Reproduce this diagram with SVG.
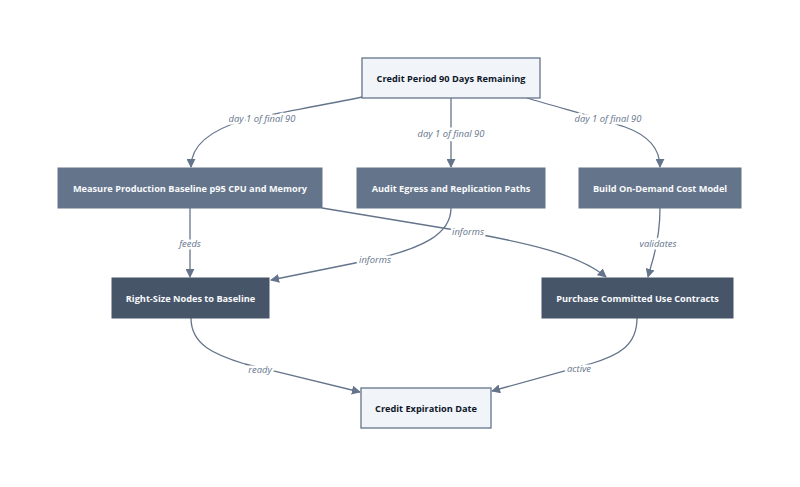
<svg xmlns="http://www.w3.org/2000/svg" width="800" height="487" viewBox="0 0 800 487">
<defs>
<marker id="arr" viewBox="0 0 10 10" refX="9" refY="5" markerWidth="9" markerHeight="9" markerUnits="userSpaceOnUse" orient="auto">
<path d="M0,0 L10,5 L0,10 z" fill="#64748b"/>
</marker>
<style>
.edge{fill:none;stroke:#64748b;stroke-width:1.3;marker-end:url(#arr);}
.lbl{font-family:"Open Sans","Liberation Sans",sans-serif;font-size:9.4px;font-style:italic;fill:#64748b;text-anchor:middle;dominant-baseline:central;stroke:#ffffff;stroke-width:5px;paint-order:stroke;stroke-linejoin:round;}
.light rect{fill:#f1f5f9;stroke:#64748b;stroke-width:1.3;}
.mid rect{fill:#64748b;stroke:#64748b;stroke-width:1;}
.dark rect{fill:#475569;stroke:#475569;stroke-width:1;}
.node text{font-family:"Open Sans","Liberation Sans",sans-serif;font-size:9.2px;font-weight:bold;text-anchor:middle;dominant-baseline:central;}
.light text{fill:#0f172a;}
.mid text,.dark text{fill:#f8fafc;}
</style>
</defs>
<rect width="800" height="487" fill="#ffffff"/>
<g id="connectors">
<path class="edge" d="M362,97 C320,106 270,114 245,120 C210,130 191,145 191,167"/>
<path class="edge" d="M451,98 L451,167"/>
<path class="edge" d="M527,98 C560,108 600,118 625,127 C650,136 660,150 660,167"/>
<path class="edge" d="M190,208 L190,277"/>
<path class="edge" d="M451,208 C451,235 420,248 380,258 L271,280"/>
<path class="edge" d="M322,208 L455,230 C530,243 580,255 606,277"/>
<path class="edge" d="M660,208 C660,230 656,250 651,266 L648,277"/>
<path class="edge" d="M191,318 C191,345 215,355 245,364 L360,392"/>
<path class="edge" d="M637,318 C637,345 620,355 590,364 L492,391"/>
<text class="lbl" x="262" y="118">day 1 of final 90</text>
<text class="lbl" x="451" y="133">day 1 of final 90</text>
<text class="lbl" x="608" y="118">day 1 of final 90</text>
<text class="lbl" x="190" y="243">feeds</text>
<text class="lbl" x="375" y="259">informs</text>
<text class="lbl" x="468" y="231">informs</text>
<text class="lbl" x="658" y="243">validates</text>
<text class="lbl" x="260" y="369">ready</text>
<text class="lbl" x="579" y="368">active</text>
</g>
<g id="n_start" class="node light"><rect x="362" y="58" width="178" height="40"/><text x="451" y="78">Credit Period 90 Days Remaining</text></g>
<g id="n_measure" class="node mid"><rect x="58" y="168" width="264" height="40"/><text x="190" y="188">Measure Production Baseline p95 CPU and Memory</text></g>
<g id="n_audit" class="node mid"><rect x="357" y="168" width="188" height="40"/><text x="451" y="188">Audit Egress and Replication Paths</text></g>
<g id="n_build" class="node mid"><rect x="579" y="168" width="162" height="40"/><text x="660" y="188">Build On-Demand Cost Model</text></g>
<g id="n_rightsize" class="node dark"><rect x="112" y="278" width="157" height="40"/><text x="190.5" y="298">Right-Size Nodes to Baseline</text></g>
<g id="n_purchase" class="node dark"><rect x="542" y="278" width="191" height="40"/><text x="637.5" y="298">Purchase Committed Use Contracts</text></g>
<g id="n_expire" class="node light"><rect x="361" y="388" width="130" height="40"/><text x="426" y="408">Credit Expiration Date</text></g>
</svg>
